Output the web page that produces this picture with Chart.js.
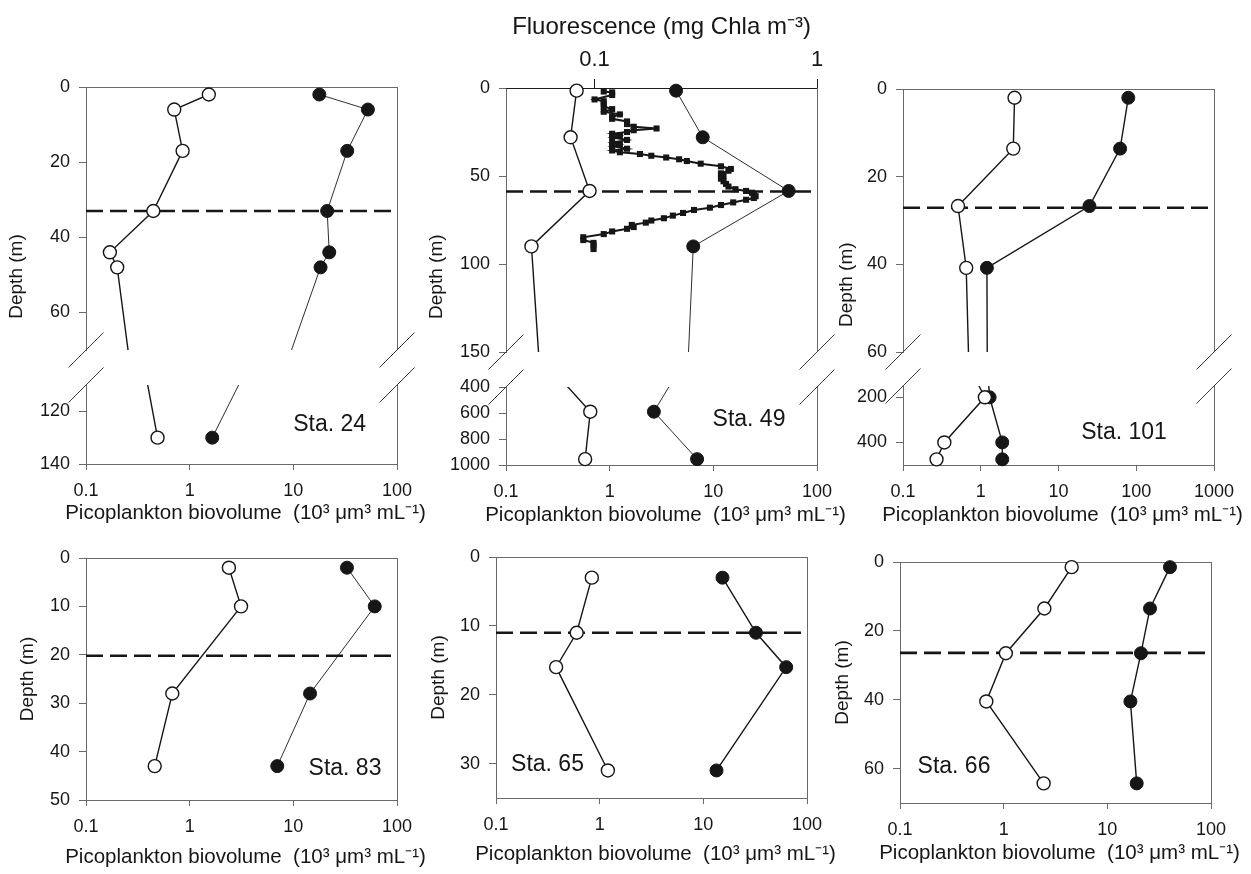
<!DOCTYPE html>
<html><head><meta charset="utf-8">
<script src="https://cdn.jsdelivr.net/npm/chart.js@4.4.1/dist/chart.umd.min.js"></script>
<style>
html,body{margin:0;padding:0;background:#fff;}
#wrap{position:relative;width:1251px;height:874px;overflow:hidden;background:#fff;}
canvas{position:absolute;}
</style></head><body><div id="wrap"></div>
<script>
// ---------------- DATA ----------------
const xTickValues = [0.1, 1, 10, 100];
const xTickLabels = ['0.1', '1', '10', '100'];
const xTickValues101 = [0.1, 1, 10, 100, 1000];
const xTickLabels101 = ['0.1', '1', '10', '100', '1000'];
const fluorTickValues = [0.1, 1];
const fluorTickLabels = ['0.1', '1'];

const stationNames = ['Sta. 24', 'Sta. 49', 'Sta. 101', 'Sta. 83', 'Sta. 65', 'Sta. 66'];
const mixedLayerDepth = [33, 58.8, 27.1, 20.2, 11, 26.4];

const sta24Depth = [2, 6, 17, 33, 44, 48, 130];
const sta24Open = [1.53, 0.71, 0.855, 0.446, 0.17, 0.20, 0.49];
const sta24Filled = [17.8, 52.4, 33.1, 21.2, 22.2, 18.3, 1.65];

const sta49Depth = [1.5, 28, 58.5, 90, 590, 955];
const sta49Open = [0.48, 0.42, 0.64, 0.176, 0.65, 0.58];
const sta49Filled = [4.37, 7.9, 53.3, 6.4, 2.67, 6.97];

const fluorDepth = [2, 2.5, 4, 6.5, 7.5, 9, 10.5, 12, 13.5, 15, 16.5, 17.5, 19, 20.5, 22, 23, 24, 25, 26, 27,
  28, 29.5, 31, 32, 33, 34.5, 35.5, 36.5, 37.5, 38.5, 39.5, 40.5, 41.5, 43, 44.5, 46, 47, 48.5, 50, 51.5,
  53, 54.5, 56, 57.5, 58.5, 59.5, 60.5, 61.5, 62.5, 63.5, 65, 66.5, 68, 69.3, 71, 72.5, 74, 75.3, 76.5, 77.8,
  79, 80, 81.5, 83, 84.8, 86.4, 88, 89.5, 91.5];
const fluorValue = [0.11, 0.12, 0.12, 0.10, 0.11, 0.11, 0.11, 0.12, 0.11, 0.13, 0.12, 0.12, 0.14, 0.14, 0.15, 0.19, 0.15, 0.14, 0.12, 0.13,
  0.12, 0.14, 0.12, 0.13, 0.12, 0.14, 0.12, 0.13, 0.16, 0.18, 0.21, 0.24, 0.26, 0.30, 0.37, 0.41, 0.40, 0.37, 0.38, 0.37,
  0.38, 0.39, 0.40, 0.43, 0.48, 0.51, 0.52, 0.53, 0.52, 0.48, 0.42, 0.37, 0.33, 0.28, 0.25, 0.225, 0.205, 0.18, 0.17, 0.147,
  0.15, 0.14, 0.12, 0.11, 0.089, 0.089, 0.099, 0.099, 0.099];

const sta101Depth = [2, 13.6, 26.7, 40.8, 200, 400, 475];
const sta101Open = [2.72, 2.62, 0.51, 0.65, 1.13, 0.34, 0.27];
const sta101Filled = [79, 62, 25, 1.2, 1.3, 1.89, 1.89];

const sta83Depth = [2, 10, 28, 43];
const sta83Open = [2.39, 3.13, 0.68, 0.46];
const sta83Filled = [32.9, 61, 14.5, 7.0];

const sta65Depth = [3, 11, 16, 31];
const sta65Open = [0.84, 0.60, 0.38, 1.2];
const sta65Filled = [15.3, 32.2, 63, 13.4];

const sta66Depth = [1.5, 13.5, 26.5, 40.5, 64.3];
const sta66Open = [4.53, 2.47, 1.05, 0.68, 2.43];
const sta66Filled = [40.2, 25.8, 21.1, 16.7, 19.2];

const yTicks24Upper = [0, 20, 40, 60];
const yTicks24Lower = [120, 140];
const yTicks49Upper = [0, 50, 100, 150];
const yTicks49Lower = [400, 600, 800, 1000];
const yTicks101Upper = [0, 20, 40, 60];
const yTicks101Lower = [200, 400];
const yTicks83 = [0, 10, 20, 30, 40, 50];
const yTicks65 = [0, 10, 20, 30];
const yTicks66 = [0, 20, 40, 60];

const xTitleText = 'Picoplankton biovolume  (10\u00B3 \u03BCm\u00B3 mL\u207B\u00B9)';
const yTitleText = 'Depth (m)';
const fluorTitleText = 'Fluorescence (mg Chla m\u207B\u00B3)';

// ---------------- STYLE ----------------
const FONT = "'Liberation Sans', Arial, Helvetica, sans-serif";
const INK = '#161616';
const FRAME = '#6a6a6a';
Chart.defaults.font.family = FONT;
Chart.defaults.color = INK;
Chart.defaults.animation = false;
Chart.defaults.plugins.legend.display = false;
Chart.defaults.plugins.tooltip.enabled = false;

const wrap = document.getElementById('wrap');

function profile(vals, depths) { return depths.map((d, i) => ({x: vals[i], y: d})); }
function openSet(vals, depths, clip) {
  return {data: profile(vals, depths), borderColor: INK, borderWidth: 1.4, pointRadius: 6.5,
    pointBackgroundColor: '#fff', pointBorderColor: INK, pointBorderWidth: 1.4, tension: 0, clip};
}
function filledSet(vals, depths, clip, bw) {
  return {data: profile(vals, depths), borderColor: INK, borderWidth: bw, pointRadius: 6.5,
    pointBackgroundColor: INK, pointBorderColor: INK, pointBorderWidth: 1, tension: 0, clip};
}
function mldSet(depth, xMax, clip) {
  return {data: [{x: 0.1, y: depth}, {x: xMax, y: depth}], borderColor: INK, borderWidth: 2.6,
    borderDash: [17, 7], pointRadius: 0, tension: 0, clip};
}
function fluorSet(clip) {
  return {data: profile(fluorValue, fluorDepth), xAxisID: 'xTop', borderColor: INK, borderWidth: 2,
    pointStyle: 'rect', pointRadius: 4.3, pointBackgroundColor: INK, pointBorderWidth: 0, tension: 0, clip};
}

function al(p) { return Math.round(p - 0.5) + 0.5; }

const decor = {
  id: 'decor',
  beforeDatasetsDraw(chart, args, o) {
    const a = chart.chartArea, c = chart.ctx;
    c.save(); c.strokeStyle = FRAME; c.lineWidth = 1;
    c.beginPath();
    c.moveTo(al(a.right), a.top); c.lineTo(al(a.right), a.bottom);
    if (o.topLine) { c.moveTo(a.left, al(a.top)); c.lineTo(a.right + 0.5, al(a.top)); }
    c.stroke(); c.restore();
  },
  afterDraw(chart, args, o) {
    const a = chart.chartArea, c = chart.ctx;
    if (o.slash) {
      const yy = o.slash === 'bottom' ? a.bottom : a.top;
      c.save(); c.strokeStyle = '#3a3a3a'; c.lineWidth = 1;
      for (const xx of [a.left, a.right]) {
        c.beginPath(); c.moveTo(xx - 17.5, yy + 17.5); c.lineTo(xx + 17.5, yy - 17.5); c.stroke();
      }
      c.restore();
    }
    if (o.label) {
      c.save(); c.fillStyle = INK; c.font = '23px ' + FONT; c.textAlign = 'center'; c.textBaseline = 'middle';
      c.fillText(o.label.text, o.label.x - o.cl, o.label.y - o.ct); c.restore();
    }
    if (o.xTitle) {
      c.save(); c.fillStyle = INK; c.font = '20.5px ' + FONT; c.textAlign = 'center'; c.textBaseline = 'middle';
      c.fillText(xTitleText, (a.left + a.right) / 2 + 4, o.xTitle.y - o.ct); c.restore();
    }
    if (o.depthTitle) {
      c.save(); c.fillStyle = INK; c.font = '19px ' + FONT; c.textAlign = 'center'; c.textBaseline = 'middle';
      c.translate(o.depthTitle.x - o.cl, o.depthTitle.y - o.ct); c.rotate(-Math.PI / 2);
      c.fillText(yTitleText, 0, 0); c.restore();
    }
  }
};

function makeChart(s) {
  const [x0, y0, x1, y1] = s.area, [L, T, R, B] = s.pad;
  const cl = x0 - L, ct = y0 - T, W = x1 - x0 + L + R, H = y1 - y0 + T + B;
  const cv = document.createElement('canvas');
  cv.width = W; cv.height = H;
  Object.assign(cv.style, {left: cl + 'px', top: ct + 'px', width: W + 'px', height: H + 'px'});
  wrap.appendChild(cv);
  const xv = s.xValues, xl = s.xLabels;
  const showX = !!s.xTitle;
  const scales = {
    x: {
      type: 'logarithmic', position: 'bottom', min: 0.1, max: xv[xv.length - 1],
      display: showX,
      afterBuildTicks: sc => { sc.ticks = xv.map(v => ({value: v})); },
      afterFit: sc => { sc.height = showX ? B : 0; },
      border: {display: true, color: FRAME, width: 1},
      grid: {display: true, drawOnChartArea: false, drawTicks: true, tickLength: 6, tickColor: FRAME},
      ticks: {padding: 10, font: {size: 18}, color: INK, maxRotation: 0, autoSkip: false,
        callback: (v, i) => xl[i]},
      title: {display: false}
    },
    y: {
      type: 'linear', position: 'left', reverse: true, min: s.yMin, max: s.yMax,
      afterBuildTicks: sc => { sc.ticks = s.yTicks.map(v => ({value: v})); },
      afterFit: sc => { sc.width = L; },
      border: {display: true, color: FRAME, width: 1},
      grid: {display: true, drawOnChartArea: false, drawTicks: true, tickLength: 7, tickColor: FRAME},
      ticks: {padding: 9, font: {size: 18}, color: INK, autoSkip: false, callback: (v, i) => String(s.yTicks[i])},
      title: s.yTitle ? {display: true, text: yTitleText, font: {size: 19}, color: INK,
        padding: {top: s.yTitle.x - cl - 11.4, bottom: 0}} : {display: false}
    }
  };
  if (s.topAxis) {
    scales.xTop = {
      type: 'logarithmic', position: 'top', min: 0.04, max: 1,
      afterBuildTicks: sc => { sc.ticks = fluorTickValues.map(v => ({value: v})); },
      afterFit: sc => { sc.height = T; },
      border: {display: true, color: '#1e1e1e', width: 1},
      grid: {display: true, drawOnChartArea: false, drawTicks: true, tickLength: 9, tickColor: '#1e1e1e'},
      ticks: {padding: 6, font: {size: 22}, color: INK, maxRotation: 0, autoSkip: false,
        callback: (v, i) => fluorTickLabels[i]},
      title: {display: true, text: fluorTitleText, font: {size: 24}, color: INK,
        padding: {top: 27 - ct - 14.4, bottom: 0}}
    };
  }
  return new Chart(cv, {
    type: 'line',
    data: {datasets: s.datasets},
    plugins: [decor],
    options: {
      responsive: false, maintainAspectRatio: false, devicePixelRatio: 1,
      layout: {padding: {left: 0, right: R, top: s.topAxis ? 0 : T, bottom: showX ? 0 : B}},
      scales,
      plugins: {decor: {cl, ct, topLine: s.topLine, slash: s.slash, label: s.label,
        depthTitle: s.depthTitle, xTitle: s.xTitle}}
    }
  });
}

const clipUp = {left: 12, top: 12, right: 12, bottom: 0};
const clipLow = {left: 12, top: 0, right: 12, bottom: 12};
const clipAll = {left: 12, top: 12, right: 12, bottom: 12};

// ---- Sta. 24 (broken axis) ----
makeChart({area: [86, 87, 397, 350], pad: [86, 40, 40, 40], xValues: xTickValues, xLabels: xTickLabels,
  yMin: 0, yMax: 70, yTicks: yTicks24Upper, topLine: true, slash: 'bottom',
  depthTitle: {x: 16.6, y: 276.5},
  datasets: [openSet(sta24Open, sta24Depth, clipUp), filledSet(sta24Filled, sta24Depth, clipUp, 0.9),
    mldSet(mixedLayerDepth[0], 100, clipUp)]});
makeChart({area: [86, 385, 397, 464], pad: [86, 40, 40, 70], xValues: xTickValues, xLabels: xTickLabels,
  yMin: 110, yMax: 140, yTicks: yTicks24Lower, slash: 'top', xTitle: {y: 513},
  label: {text: stationNames[0], x: 329.7, y: 425},
  datasets: [openSet(sta24Open, sta24Depth, clipLow), filledSet(sta24Filled, sta24Depth, clipLow, 0.9)]});

// ---- Sta. 49 (broken axis + fluorescence) ----
makeChart({area: [506, 88, 817, 352], pad: [86, 88, 40, 40], xValues: xTickValues, xLabels: xTickLabels,
  yMin: 0, yMax: 150, yTicks: yTicks49Upper, topAxis: true, slash: 'bottom',
  depthTitle: {x: 436.3, y: 276.7},
  datasets: [openSet(sta49Open, sta49Depth, clipUp), filledSet(sta49Filled, sta49Depth, clipUp, 0.9),
    fluorSet(clipUp), mldSet(mixedLayerDepth[1], 100, clipUp)]});
makeChart({area: [506, 387, 817, 465], pad: [86, 40, 40, 69], xValues: xTickValues, xLabels: xTickLabels,
  yMin: 400, yMax: 1000, yTicks: yTicks49Lower, slash: 'top', xTitle: {y: 515},
  label: {text: stationNames[1], x: 749, y: 420},
  datasets: [openSet(sta49Open, sta49Depth, clipLow), filledSet(sta49Filled, sta49Depth, clipLow, 0.9)]});

// ---- Sta. 101 (broken axis) ----
makeChart({area: [903, 89, 1214, 352], pad: [86, 40, 37, 40], xValues: xTickValues101, xLabels: xTickLabels101,
  yMin: 0, yMax: 60, yTicks: yTicks101Upper, topLine: true, slash: 'bottom',
  depthTitle: {x: 846.3, y: 284.7},
  datasets: [openSet(sta101Open, sta101Depth, clipUp), filledSet(sta101Filled, sta101Depth, clipUp, 1.4),
    mldSet(mixedLayerDepth[2], 1000, clipUp)]});
makeChart({area: [903, 386, 1214, 465], pad: [86, 40, 37, 69], xValues: xTickValues101, xLabels: xTickLabels101,
  yMin: 150, yMax: 500, yTicks: yTicks101Lower, slash: 'top', xTitle: {y: 515},
  label: {text: stationNames[2], x: 1124, y: 433},
  datasets: [openSet(sta101Open, sta101Depth, clipLow), filledSet(sta101Filled, sta101Depth, clipLow, 1.4)]});

// ---- Sta. 83 ----
makeChart({area: [86, 558, 397, 800], pad: [86, 40, 40, 74], xValues: xTickValues, xLabels: xTickLabels,
  yMin: 0, yMax: 50, yTicks: yTicks83, topLine: true, xTitle: {y: 857}, yTitle: {x: 27.8},
  label: {text: stationNames[3], x: 345, y: 768.7},
  datasets: [openSet(sta83Open, sta83Depth, clipAll), filledSet(sta83Filled, sta83Depth, clipAll, 0.9),
    mldSet(mixedLayerDepth[3], 100, clipAll)]});

// ---- Sta. 65 ----
makeChart({area: [496, 557, 807, 798], pad: [86, 40, 40, 76], xValues: xTickValues, xLabels: xTickLabels,
  yMin: 0, yMax: 35, yTicks: yTicks65, topLine: true, xTitle: {y: 854}, yTitle: {x: 439.1},
  label: {text: stationNames[4], x: 547.5, y: 765},
  datasets: [openSet(sta65Open, sta65Depth, clipAll), filledSet(sta65Filled, sta65Depth, clipAll, 1.4),
    mldSet(mixedLayerDepth[4], 100, clipAll)]});

// ---- Sta. 66 ----
makeChart({area: [900, 562, 1211, 803], pad: [86, 40, 40, 71], xValues: xTickValues, xLabels: xTickLabels,
  yMin: 0, yMax: 70, yTicks: yTicks66, topLine: true, xTitle: {y: 853}, yTitle: {x: 843},
  label: {text: stationNames[5], x: 954, y: 766.7},
  datasets: [openSet(sta66Open, sta66Depth, clipAll), filledSet(sta66Filled, sta66Depth, clipAll, 1.4),
    mldSet(mixedLayerDepth[5], 100, clipAll)]});
</script>
</body></html>
